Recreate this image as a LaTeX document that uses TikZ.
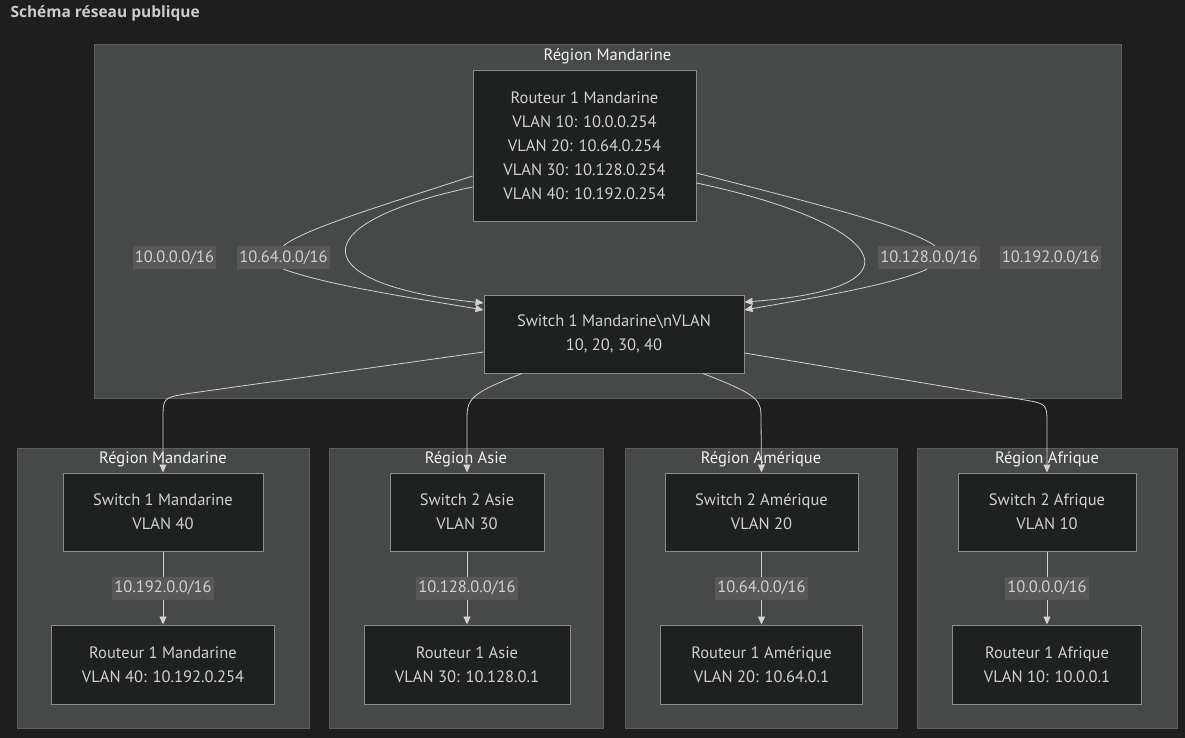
\documentclass[tikz,border=0pt]{standalone}
\usepackage{fontspec}
\setmainfont{PT Sans}
\newfontfamily\titlefont{Open Sans}
\usetikzlibrary{arrows.meta,positioning}
\definecolor{bgdark}{HTML}{1E1E1E}
\definecolor{regfill}{HTML}{474848}
\definecolor{regline}{HTML}{5E5E5E}
\definecolor{regtext}{HTML}{F2F2F2}
\definecolor{devfill}{HTML}{1F2020}
\definecolor{devline}{HTML}{8C8C8C}
\definecolor{devtext}{HTML}{D0D0D0}
\definecolor{netfill}{HTML}{585858}
\definecolor{linkcol}{HTML}{D2D2D2}
\definecolor{titlecol}{HTML}{CCCCCC}

\begin{document}
\begin{tikzpicture}[x=1pt, y=-1pt, node distance=73pt,
    every node/.style={font=\fontsize{16.5}{24}\selectfont},
    region/.style={draw=regline, fill=regfill, line width=1pt, inner sep=0pt},
    regtitle/.style={text=regtext},
    device/.style={draw=devline, fill=devfill, text=devtext, align=center, line width=1pt, inner sep=0pt},
    net/.style={fill=netfill, text=devtext, inner sep=2pt, minimum height=23pt},
    wire/.style={draw=linkcol, line width=0.8pt},
    link/.style={wire, -{Triangle[length=8pt,width=7pt]}}]
    \useasboundingbox (0,0) rectangle (1185,738);
    \fill[bgdark] (0,0) rectangle (1185,738);
    \node[anchor=west, text=titlecol, font=\titlefont\bfseries\fontsize{15.5}{18}\selectfont] (title) at (7,13) {Schéma réseau publique};

    \node[region, minimum width=1027pt, minimum height=353pt] (rmand) at (607.5,221.5) {};
    \node[region, minimum width=292pt, minimum height=280pt] (bmand) at (163,588) {};
    \node[region, minimum width=274pt, minimum height=280pt] (basie) at (466,588) {};
    \node[region, minimum width=272pt, minimum height=280pt] (bamer) at (761,588) {};
    \node[region, minimum width=260pt, minimum height=280pt] (bafri) at (1047,588) {};
    \node[regtitle] at ([yshift=-12pt]rmand.north) {Région Mandarine};
    \node[regtitle] at ([yshift=-12pt]bmand.north) {Région Mandarine};
    \node[regtitle] at ([yshift=-12pt]basie.north) {Région Asie};
    \node[regtitle] at ([yshift=-12pt]bamer.north) {Région Amérique};
    \node[regtitle] at ([yshift=-12pt]bafri.north) {Région Afrique};

    \node[device, minimum width=223pt, minimum height=150pt] (rt1) at (584.5,146) {Routeur 1 Mandarine\\VLAN 10: 10.0.0.254\\VLAN 20: 10.64.0.254\\VLAN 30: 10.128.0.254\\VLAN 40: 10.192.0.254};
    \node[device, minimum width=260pt, minimum height=78pt] (sw1) at (614,334) {Switch 1 Mandarine\textbackslash nVLAN\\10, 20, 30, 40};

    \node[net] (n10) at (174.5,257.5) {10.0.0.0/16};
    \node[net] (n64) at (283.5,257.5) {10.64.0.0/16};
    \node[net] (n128) at (929,257.5) {10.128.0.0/16};
    \node[net] (n192) at (1050.5,257.5) {10.192.0.0/16};

    \node[device, minimum width=200pt, minimum height=78pt] (swman) at (163,512) {Switch 1 Mandarine\\VLAN 40};
    \node[device, minimum width=154pt, minimum height=78pt] (swasi) at (467,512) {Switch 2 Asie\\VLAN 30};
    \node[device, minimum width=193pt, minimum height=78pt] (swame) at (761.5,512) {Switch 2 Amérique\\VLAN 20};
    \node[device, minimum width=178pt, minimum height=78pt] (swafr) at (1047,512) {Switch 2 Afrique\\VLAN 10};
    \node[device, minimum width=223pt, minimum height=79pt, below=of swman] (rtman) {Routeur 1 Mandarine\\VLAN 40: 10.192.0.254};
    \node[device, minimum width=206pt, minimum height=79pt, below=of swasi] (rtasi) {Routeur 1 Asie\\VLAN 30: 10.128.0.1};
    \node[device, minimum width=202pt, minimum height=79pt, below=of swame] (rtame) {Routeur 1 Amérique\\VLAN 20: 10.64.0.1};
    \node[device, minimum width=189pt, minimum height=79pt, below=of swafr] (rtafr) {Routeur 1 Afrique\\VLAN 10: 10.0.0.1};

    \draw[wire] ([yshift=-30pt]rt1.west) .. controls (400,200) and (305,228) .. (n64.north);
    \draw[link] (n64.south) .. controls (330,286) and (420,299) .. ([yshift=24pt]sw1.west);
    \draw[link] ([yshift=-41pt]rt1.west) .. controls (295,225) and (310,285) .. ([yshift=31pt]sw1.west);
    \draw[wire] ([yshift=-27pt]rt1.east) .. controls (800,200) and (905,225) .. ([xshift=6pt]n128.north);
    \draw[link] ([xshift=-2pt]n128.south) .. controls (890,286) and (800,300) .. ([yshift=24pt]sw1.east);
    \draw[link] ([yshift=-37pt]rt1.east) .. controls (880,222) and (935,288) .. ([yshift=32pt]sw1.east);

    \draw[link] ([yshift=-18pt]sw1.west) -- (185,394) .. controls (163,398) .. (163,420) -- (swman.north);
    \draw[link] ([xshift=-92pt]sw1.south) .. controls (468,394) and (467,400) .. (467,420) -- (swasi.north);
    \draw[link] ([xshift=89pt]sw1.south) .. controls (761,396) and (761,400) .. (761,420) -- (swame.north);
    \draw[link] ([yshift=-19pt]sw1.east) -- (1025,400) .. controls (1047,404) .. (1047,425) -- (swafr.north);

    \draw[link] (swman) -- node[net] {10.192.0.0/16} (rtman);
    \draw[link] (swasi) -- node[net] {10.128.0.0/16} (rtasi);
    \draw[link] (swame) -- node[net] {10.64.0.0/16} (rtame);
    \draw[link] (swafr) -- node[net] {10.0.0.0/16} (rtafr);
\end{tikzpicture}
\end{document}
